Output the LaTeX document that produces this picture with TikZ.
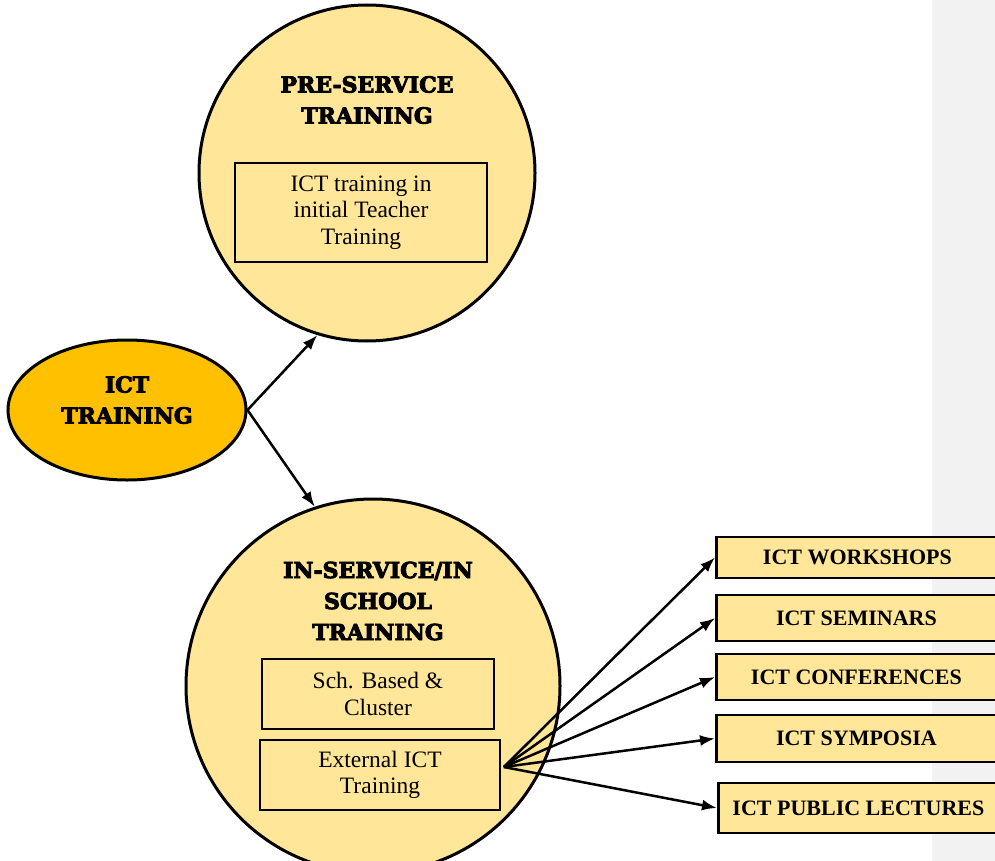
\documentclass[tikz,border=0pt]{standalone}
\usepackage{fontspec}
\setmainfont{Liberation Serif}
\newfontfamily\titlefont{DejaVu Serif}[BoldFeatures={FakeBold=4}]
\usetikzlibrary{shapes.geometric,arrows.meta}
\definecolor{lightgold}{HTML}{FFE699}
\definecolor{gold}{HTML}{FFC000}
\definecolor{band}{HTML}{F2F2F2}
\tikzset{
  bigcircle/.style={circle,draw=black,line width=3pt,fill=lightgold,inner sep=0pt},
  titletext/.style={align=center,font=\titlefont\bfseries\fontsize{22}{31}\selectfont},
  innerbox/.style={rectangle,draw=black,line width=1.6pt,align=center,inner sep=0pt,
    font=\fontsize{23.5}{26.5}\selectfont},
  itembox/.style={rectangle,draw=black,line width=2.8pt,fill=lightgold,anchor=west,
    minimum width=280pt,inner sep=0pt,font=\bfseries\fontsize{22}{26}\selectfont},
  conn/.style={line width=2.5pt,-{Latex[length=15pt,width=11pt]}}
}
\begin{document}
\begin{tikzpicture}[x=1pt,y=-1pt]
\useasboundingbox (0,0) rectangle (995,861);
\fill[band] (932,0) rectangle (995,861);

% top circle
\node[bigcircle,minimum size=336pt] (pre) at (367,173) {};
\node[titletext] (pretitle) at (367,100) {PRE-SERVICE\\TRAINING};
\node[innerbox,minimum width=252pt,minimum height=99pt] (prebox) at (361,212.5)
  {ICT training in\\initial Teacher\\Training};

% left ellipse
\node[ellipse,draw=black,line width=3pt,fill=gold,minimum width=238pt,minimum height=140pt,inner sep=0pt]
  (ict) at (127,410) {};
\node[titletext] (icttitle) at (127,400) {ICT\\TRAINING};

% bottom circle
\node[bigcircle,minimum size=374pt] (ins) at (373,686) {};
\node[titletext] (institle) at (378,601) {IN-SERVICE/IN\\SCHOOL\\TRAINING};
\node[innerbox,minimum width=232pt,minimum height=70pt] (sch) at (378,694) {Sch. Based \&\\Cluster};
\node[innerbox,minimum width=240pt,minimum height=70pt] (ext) at (380,775) {External ICT\\Training};

% right boxes
\node[itembox,minimum height=41pt] (ws) at (715,557.5) {\hspace*{2pt}ICT WORKSHOPS};
\node[itembox,minimum height=46pt] (sem) at (715,618) {ICT SEMINARS};
\node[itembox,minimum height=46pt] (conf) at (715,677) {ICT CONFERENCES};
\node[itembox,minimum height=47pt] (sym) at (715,738.5) {ICT SYMPOSIA};
\node[itembox,minimum height=50pt] (pub) at (717,808) {ICT PUBLIC LECTURES};

% connectors
\draw[conn] (ict.east) -- (pre.253);
\draw[conn] (ict.east) -- (ins.108);
\coordinate (src) at ([xshift=3pt,yshift=8pt]ext.east);
\draw[conn] (src) -- (ws.west);
\draw[conn] (src) -- (sem.west);
\draw[conn] (src) -- (conf.west);
\draw[conn] (src) -- (sym.west);
\draw[conn] (src) -- (pub.west);
\end{tikzpicture}
\end{document}
